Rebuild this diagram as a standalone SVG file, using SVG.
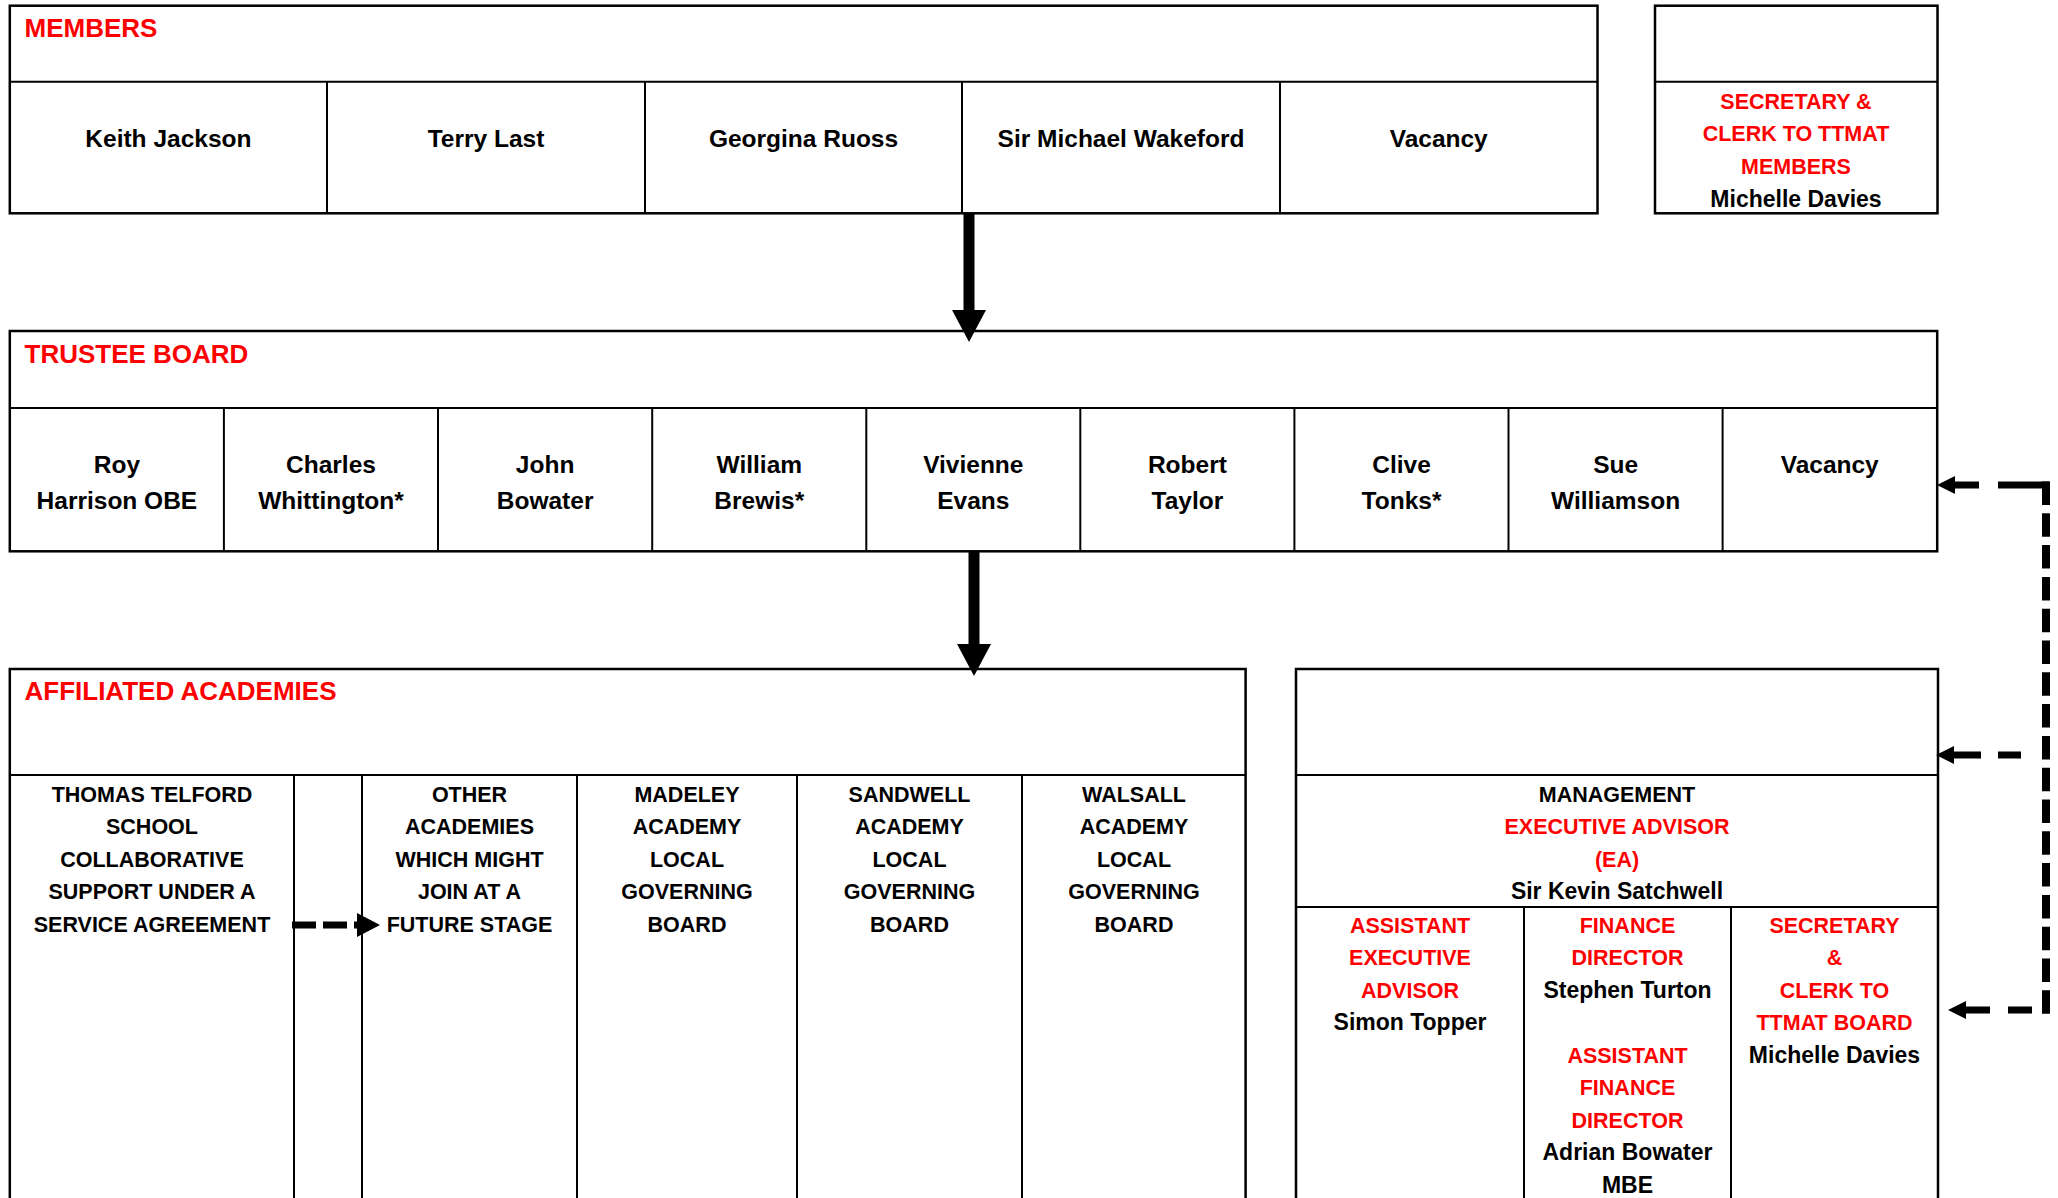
<svg xmlns="http://www.w3.org/2000/svg" width="2058" height="1198" viewBox="0 0 2058 1198">
<style>
.box{fill:#fff;stroke:#000;stroke-width:2.5}
.ln{stroke:#000;stroke-width:2}
text{font-family:"Liberation Sans",Arial,sans-serif;font-weight:bold;text-anchor:middle;fill:#000}
.title{font-size:26px;text-anchor:start;fill:#f00}
.nm{font-size:24.5px}
.sm{font-size:21.5px}
.mx{font-size:23px}
.r{fill:#f00}
.solid{stroke:#000;stroke-width:11;fill:none}
.dash{stroke:#000;fill:none}
</style>
<defs>
<marker id="big" markerUnits="userSpaceOnUse" viewBox="0 0 32 34" refX="0" refY="17" markerWidth="32" markerHeight="34" orient="auto"><path d="M0,0 L32,17 L0,34 z" fill="#000"/></marker>
<marker id="mid" markerUnits="userSpaceOnUse" viewBox="0 0 23 24" refX="0" refY="12" markerWidth="23" markerHeight="24" orient="auto"><path d="M0,0 L23,12 L0,24 z" fill="#000"/></marker>
<marker id="sml" markerUnits="userSpaceOnUse" viewBox="0 0 18 18" refX="0" refY="9" markerWidth="18" markerHeight="18" orient="auto"><path d="M0,0 L18,9 L0,18 z" fill="#000"/></marker>
</defs>
<rect width="2058" height="1198" fill="#fff"/>

<g id="members">
<rect class="box" x="9.8" y="5.7" width="1587.7" height="207.6"/>
<line class="ln" x1="9.8" y1="81.7" x2="1597.5" y2="81.7"/>
<line class="ln" x1="327" y1="81.7" x2="327" y2="213.3"/>
<line class="ln" x1="645" y1="81.7" x2="645" y2="213.3"/>
<line class="ln" x1="962" y1="81.7" x2="962" y2="213.3"/>
<line class="ln" x1="1280" y1="81.7" x2="1280" y2="213.3"/>
<text class="title" x="24.5" y="36.7">MEMBERS</text>
<text class="nm" x="168.4" y="146.5">Keith Jackson</text>
<text class="nm" x="486" y="146.5">Terry Last</text>
<text class="nm" x="803.5" y="146.5">Georgina Ruoss</text>
<text class="nm" x="1121" y="146.5">Sir Michael Wakeford</text>
<text class="nm" x="1438.7" y="146.5">Vacancy</text>
</g>

<g id="secretary-members">
<rect class="box" x="1655" y="5.7" width="282.5" height="207.6"/>
<line class="ln" x1="1655" y1="81.7" x2="1937.5" y2="81.7"/>
<text class="sm r" x="1796" y="108.5">SECRETARY &amp;</text>
<text class="sm r" x="1796" y="141">CLERK TO TTMAT</text>
<text class="sm r" x="1796" y="174">MEMBERS</text>
<text class="mx" x="1796" y="206.5">Michelle Davies</text>
</g>

<g id="trustee-board">
<rect class="box" x="9.8" y="331" width="1927.4" height="220.3"/>
<line class="ln" x1="9.8" y1="408" x2="1937.2" y2="408"/>
<line class="ln" x1="223.9" y1="408" x2="223.9" y2="551.3"/>
<line class="ln" x1="438" y1="408" x2="438" y2="551.3"/>
<line class="ln" x1="652.2" y1="408" x2="652.2" y2="551.3"/>
<line class="ln" x1="866.3" y1="408" x2="866.3" y2="551.3"/>
<line class="ln" x1="1080.3" y1="408" x2="1080.3" y2="551.3"/>
<line class="ln" x1="1294.4" y1="408" x2="1294.4" y2="551.3"/>
<line class="ln" x1="1508.5" y1="408" x2="1508.5" y2="551.3"/>
<line class="ln" x1="1722.6" y1="408" x2="1722.6" y2="551.3"/>
<text class="title" x="24.5" y="362.7">TRUSTEE BOARD</text>
<text class="nm" x="116.9" y="473">Roy</text><text class="nm" x="116.9" y="508.5">Harrison OBE</text>
<text class="nm" x="331" y="473">Charles</text><text class="nm" x="331" y="508.5">Whittington*</text>
<text class="nm" x="545.1" y="473">John</text><text class="nm" x="545.1" y="508.5">Bowater</text>
<text class="nm" x="759.3" y="473">William</text><text class="nm" x="759.3" y="508.5">Brewis*</text>
<text class="nm" x="973.3" y="473">Vivienne</text><text class="nm" x="973.3" y="508.5">Evans</text>
<text class="nm" x="1187.4" y="473">Robert</text><text class="nm" x="1187.4" y="508.5">Taylor</text>
<text class="nm" x="1401.5" y="473">Clive</text><text class="nm" x="1401.5" y="508.5">Tonks*</text>
<text class="nm" x="1615.6" y="473">Sue</text><text class="nm" x="1615.6" y="508.5">Williamson</text>
<text class="nm" x="1829.7" y="473">Vacancy</text>
</g>

<g id="affiliated-academies">
<rect class="box" x="9.8" y="669" width="1235.8" height="560"/>
<line class="ln" x1="9.8" y1="775" x2="1245.6" y2="775"/>
<line class="ln" x1="294" y1="775" x2="294" y2="1200"/>
<line class="ln" x1="362" y1="775" x2="362" y2="1200"/>
<line class="ln" x1="577" y1="775" x2="577" y2="1200"/>
<line class="ln" x1="797" y1="775" x2="797" y2="1200"/>
<line class="ln" x1="1022" y1="775" x2="1022" y2="1200"/>
<text class="title" x="24.5" y="700">AFFILIATED ACADEMIES</text>
<g class="sm">
<text class="sm" x="152" y="801.5">THOMAS TELFORD</text>
<text class="sm" x="152" y="834">SCHOOL</text>
<text class="sm" x="152" y="866.5">COLLABORATIVE</text>
<text class="sm" x="152" y="899">SUPPORT UNDER A</text>
<text class="sm" x="152" y="931.5">SERVICE AGREEMENT</text>
<text class="sm" x="469.5" y="801.5">OTHER</text>
<text class="sm" x="469.5" y="834">ACADEMIES</text>
<text class="sm" x="469.5" y="866.5">WHICH MIGHT</text>
<text class="sm" x="469.5" y="899">JOIN AT A</text>
<text class="sm" x="469.5" y="931.5">FUTURE STAGE</text>
<text class="sm" x="687" y="801.5">MADELEY</text>
<text class="sm" x="687" y="834">ACADEMY</text>
<text class="sm" x="687" y="866.5">LOCAL</text>
<text class="sm" x="687" y="899">GOVERNING</text>
<text class="sm" x="687" y="931.5">BOARD</text>
<text class="sm" x="909.5" y="801.5">SANDWELL</text>
<text class="sm" x="909.5" y="834">ACADEMY</text>
<text class="sm" x="909.5" y="866.5">LOCAL</text>
<text class="sm" x="909.5" y="899">GOVERNING</text>
<text class="sm" x="909.5" y="931.5">BOARD</text>
<text class="sm" x="1134" y="801.5">WALSALL</text>
<text class="sm" x="1134" y="834">ACADEMY</text>
<text class="sm" x="1134" y="866.5">LOCAL</text>
<text class="sm" x="1134" y="899">GOVERNING</text>
<text class="sm" x="1134" y="931.5">BOARD</text>
</g>
</g>

<g id="management">
<rect class="box" x="1296" y="669" width="642" height="560"/>
<line class="ln" x1="1296" y1="775" x2="1938" y2="775"/>
<line class="ln" x1="1296" y1="907" x2="1938" y2="907"/>
<line class="ln" x1="1524" y1="907" x2="1524" y2="1200"/>
<line class="ln" x1="1731" y1="907" x2="1731" y2="1200"/>
<text class="sm" x="1617" y="801.5">MANAGEMENT</text>
<text class="sm r" x="1617" y="834">EXECUTIVE ADVISOR</text>
<text class="sm r" x="1617" y="866.5">(EA)</text>
<text class="mx" x="1617" y="899">Sir Kevin Satchwell</text>
<text class="sm r" x="1410" y="932.5">ASSISTANT</text>
<text class="sm r" x="1410" y="965">EXECUTIVE</text>
<text class="sm r" x="1410" y="997.5">ADVISOR</text>
<text class="mx" x="1410" y="1030">Simon Topper</text>
<text class="sm r" x="1627.5" y="932.5">FINANCE</text>
<text class="sm r" x="1627.5" y="965">DIRECTOR</text>
<text class="mx" x="1627.5" y="997.5">Stephen Turton</text>
<text class="sm r" x="1627.5" y="1062.5">ASSISTANT</text>
<text class="sm r" x="1627.5" y="1095">FINANCE</text>
<text class="sm r" x="1627.5" y="1127.5">DIRECTOR</text>
<text class="mx" x="1627.5" y="1160">Adrian Bowater</text>
<text class="mx" x="1627.5" y="1192.5">MBE</text>
<text class="sm r" x="1834.5" y="932.5">SECRETARY</text>
<text class="sm r" x="1834.5" y="965">&amp;</text>
<text class="sm r" x="1834.5" y="997.5">CLERK TO</text>
<text class="sm r" x="1834.5" y="1030">TTMAT BOARD</text>
<text class="mx" x="1834.5" y="1062.5">Michelle Davies</text>
</g>

<g id="connectors">
<path class="solid" d="M969,213 V310" marker-end="url(#big)"/>
<path class="solid" d="M974,551 V644" marker-end="url(#big)"/>
<path class="dash" d="M292,925 H357" stroke-width="7" stroke-dasharray="24 7" marker-end="url(#mid)"/>
<path class="dash" d="M2046,481.5 V1014" stroke-width="8" stroke-dasharray="23.5 8.3"/>
<path class="dash" d="M2050,485 H1955" stroke-width="7" stroke-dasharray="52 19 25 100" marker-end="url(#sml)"/>
<path class="dash" d="M2021,755 H1954" stroke-width="7" stroke-dasharray="23 17 27 100" marker-end="url(#sml)"/>
<path class="dash" d="M2032,1010 H1966" stroke-width="7" stroke-dasharray="24 18 24 100" marker-end="url(#sml)"/>
</g>
</svg>
